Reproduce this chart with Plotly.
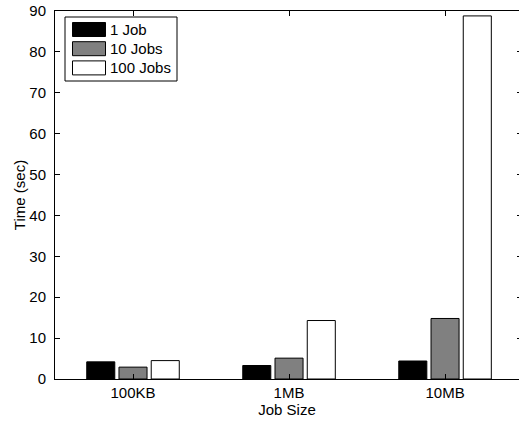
import plotly.graph_objects as go

categories = ["100KB", "1MB", "10MB"]
series_names = ["1 Job", "10 Jobs", "100 Jobs"]
one_job = [4.2, 3.3, 4.4]
ten_jobs = [2.9, 5.1, 14.8]
hundred_jobs = [4.5, 14.3, 88.8]
y_ticks = [0, 10, 20, 30, 40, 50, 60, 70, 80, 90]

colors = ["#000000", "#808080", "#ffffff"]
values = [one_job, ten_jobs, hundred_jobs]
xpos = [1, 2, 3]

FONT = "Liberation Sans, Arial, Helvetica, sans-serif"
FS = 15
W, H = 519, 423
ML, MR, MT, MB = 55, 0, 11, 44
PW, PH = W - ML - MR, H - MT - MB


def px_x(px):
    return (px - ML) / PW


def px_y(py):
    return (H - MB - py) / PH


fig = go.Figure()
for name, vals, col in zip(series_names, values, colors):
    fig.add_trace(go.Bar(
        x=xpos, y=vals, name=name, showlegend=False,
        marker=dict(color=col, line=dict(color="#000000", width=1)),
    ))

# dummy trace for right-side ticks
fig.add_trace(go.Scatter(x=[None], y=[None], yaxis="y2", showlegend=False, hoverinfo="skip"))

# legend (Matlab-style) drawn in paper coordinates
shapes = [dict(type="rect", xref="paper", yref="paper",
               x0=px_x(65), x1=px_x(177), y0=px_y(81), y1=px_y(17),
               fillcolor="white", line=dict(color="#000000", width=1))]
annotations = []
for i, (name, col) in enumerate(zip(series_names, colors)):
    top = 22.5 + i * 19.2
    shapes.append(dict(type="rect", xref="paper", yref="paper",
                       x0=px_x(72.5), x1=px_x(105.5), y0=px_y(top + 14), y1=px_y(top),
                       fillcolor=col, line=dict(color="#000000", width=1)))
    annotations.append(dict(xref="paper", yref="paper", x=px_x(107.5), y=px_y(top + 7),
                            xanchor="left", yanchor="middle", showarrow=False, text=name,
                            font=dict(family=FONT, size=FS, color="#000000")))

fig.update_layout(
    width=W, height=H,
    margin=dict(l=ML, r=MR, t=MT, b=MB, autoexpand=False),
    paper_bgcolor="white", plot_bgcolor="white",
    barmode="group", bargap=0.38, bargroupgap=0.13,
    font=dict(family=FONT, size=FS, color="#000000"),
    showlegend=False,
    shapes=shapes, annotations=annotations,
    xaxis=dict(
        range=[0.5, 3.474], tickmode="array", tickvals=xpos, ticktext=categories,
        ticks="inside", ticklen=5, tickcolor="#000000",
        showline=True, linecolor="#000000", linewidth=1, mirror="ticks",
        showgrid=False, zeroline=False, automargin=False,
        tickfont=dict(size=FS),
        title=dict(text="Job Size", standoff=1, font=dict(size=FS)),
    ),
    yaxis=dict(
        range=[0, 90], tickmode="array", tickvals=y_ticks,
        ticks="inside", ticklen=5, tickcolor="#000000",
        showline=True, linecolor="#000000", linewidth=1,
        showgrid=False, zeroline=False, automargin=False,
        tickfont=dict(size=FS), ticklabelstandoff=5,
        title=dict(text="Time (sec)", standoff=0, font=dict(size=FS)),
    ),
    yaxis2=dict(
        range=[0, 90], tickmode="array", tickvals=y_ticks, overlaying="y", side="right",
        ticks="inside", ticklen=2, tickcolor="#000000", showticklabels=False,
        showline=False, showgrid=False, zeroline=False, automargin=False,
    ),
)

fig.write_html("out.html",
               config={"displayModeBar": False},
               post_script="document.body.style.margin='0';document.body.style.overflow='hidden';")
